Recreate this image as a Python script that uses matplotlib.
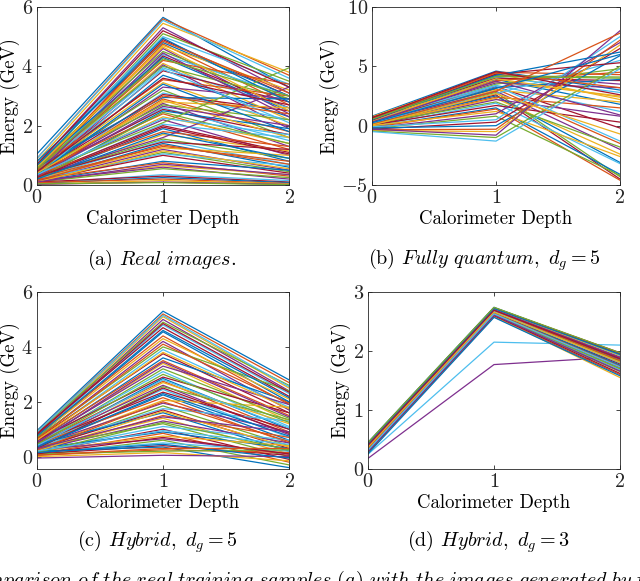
import matplotlib
matplotlib.use("Agg")
import matplotlib.pyplot as plt

plt.rcParams["font.family"] = "cmr10"
plt.rcParams["mathtext.fontset"] = "cm"
plt.rcParams["axes.formatter.use_mathtext"] = True
plt.rcParams["axes.unicode_minus"] = False

# MATLAB default colour order
matlab_colors = ["#0072BD", "#D95319", "#EDB120", "#7E2F8E",
                 "#77AC30", "#4DBEEE", "#A2142F"]

depth = [0, 1, 2]

# (a) real images: energy at depth 0, 1, 2 for each sample
real_e0 = [1.05, 0.9, 0.8, 0.7, 0.6, 0.75, 0.5, 0.8, 0.45, 0.6, 0.4, 0.7, 0.55, 0.3, 0.65,
           0.5, 0.45, 0.35, 0.6, 0.5, 0.4, 0.3, 0.55, 0.45, 0.35, 0.5, 0.25, 0.4, 0.6, 0.3,
           0.45, 0.35, 0.5, 0.3, 0.4, 0.2, 0.45, 0.3, 0.35, 0.4, 0.25, 0.3, 0.2, 0.35, 0.15,
           0.3, 0.25, 0.2, 0.3, 0.15, 0.25, 0.2, 0.15, 0.1, 0.2, 0.15, 0.12, 0.2, 0.1, 0.15,
           0.1, 0.05, 0.1, 0.05, 0.08, 0.03, 0.02, 0.04,
           0.9, 0.7, 0.65, 0.5, 0.6, 0.4, 0.55, 0.3, 0.45, 0.35, 0.25, 0.4, 0.3, 0.2, 0.35,
           0.25, 0.2, 0.15, 0.1, 0.1]
real_e1 = [5.65, 5.6, 5.45, 5.3, 5.1, 5.0, 4.9, 4.8, 4.75, 4.7, 4.6, 4.5, 4.4, 4.35, 4.3,
           4.2, 4.1, 4.05, 4.0, 3.95, 3.85, 3.7, 3.55, 3.45, 3.3, 3.2, 3.1, 3.05, 2.95, 2.9,
           2.8, 2.75, 2.7, 2.6, 2.55, 2.5, 2.4, 2.3, 2.2, 2.1, 2.05, 2.0, 1.9, 1.8, 1.7,
           1.6, 1.55, 1.5, 1.45, 1.4, 1.3, 1.25, 1.2, 1.1, 1.05, 1.0, 0.8, 0.75, 0.65, 0.6,
           0.55, 0.35, 0.3, 0.25, 0.2, 0.15, 0.1, 0.08,
           5.55, 5.2, 4.95, 4.85, 4.65, 4.45, 4.25, 3.9, 3.6, 3.4, 3.0, 2.85, 2.65, 2.45, 2.25,
           1.95, 1.75, 1.35, 1.15, 0.7]
real_e2 = [3.3, 3.7, 3.8, 3.1, 3.5, 3.4, 3.0, 3.0, 2.7, 3.2, 2.4, 2.9, 3.0, 2.6, 2.5,
           3.4, 2.2, 1.9, 2.9, 2.6, 2.8, 2.3, 3.0, 2.0, 2.9, 1.6, 2.2, 2.5, 2.9, 1.8,
           2.6, 1.3, 2.2, 1.5, 1.7, 1.9, 1.2, 1.4, 1.0, 3.95, 1.6, 1.1, 0.8, 1.3, 1.15,
           3.3, 0.9, 0.7, 1.2, 0.6, 0.8, 1.0, 0.5, 0.45, 0.65, 0.4, 0.5, 0.3, 0.35, 0.2,
           0.25, 0.15, 0.1, 0.08, 0.05, 0.04, 0.02, 0.01,
           3.6, 3.3, 2.8, 3.1, 2.5, 2.3, 3.0, 2.1, 2.7, 1.8, 2.4, 1.6, 2.0, 1.4, 1.7,
           1.05, 0.9, 0.7, 0.55, 0.35]

# (b) fully quantum generator, d_g = 5
fq_e0 = [0.8, 0.7, 0.75, 0.6, 0.65, 0.5, 0.7, 0.55, 0.4, 0.6, 0.45, 0.3, 0.5, 0.35, 0.25,
         0.4, 0.2, 0.3, 0.15, 0.25, 0.1, 0.2, 0.05, 0.1, 0.0, 0.15, -0.05, 0.05, -0.1, -0.15,
         0.0, -0.2, -0.25, -0.1, -0.3, -0.2, -0.35, -0.4, -0.3, -0.45, -0.5, 0.45, 0.5, 0.6,
         0.35, 0.3, 0.55, 0.2, 0.65, 0.25, 0.1, 0.05]
fq_e1 = [4.6, 4.5, 4.4, 4.3, 4.2, 4.1, 4.0, 3.9, 3.8, 3.7, 3.6, 3.5, 3.4, 3.3, 3.2,
         3.1, 3.0, 2.9, 2.8, 2.7, 2.6, 2.5, 2.4, 2.3, 2.2, 2.0, 1.9, 1.7, 1.5, 1.4,
         1.2, 1.0, 0.8, 0.5, 0.3, 0.0, -0.3, -0.5, -0.8, -1.0, -1.3, 4.35, 4.25, 4.45,
         3.95, 3.75, 4.15, 3.35, 4.55, 3.15, 2.9, 2.7]
fq_e2 = [3.0, 4.3, 2.2, 3.5, 4.1, 2.8, 3.8, 1.8, 4.5, 2.5, 3.2, 4.8, 1.2, -0.2, 3.9,
         -1.5, 2.0, -2.0, -4.3, 5.5, -4.5, -3.1, 1.5, -2.4, 0.8, -1.8, -3.2, 0.3, -4.1, -4.6,
         -2.6, 7.0, -4.2, 7.5, 6.5, 5.9, 7.2, 6.8, 8.0, 5.0, 4.8, 5.3, 6.2, 3.2,
         2.4, 0.9, 4.0, -1.3, 2.6, 6.0, 7.8, -0.7]

# (c) hybrid generator, d_g = 5
hy5_e0 = [0.95, 0.9, 0.85, 0.8, 0.9, 0.75, 0.85, 0.7, 0.8, 0.75, 0.65, 0.7, 0.6, 0.65, 0.55,
          0.6, 0.5, 0.55, 0.45, 0.5, 0.6, 0.4, 0.5, 0.35, 0.45, 0.3, 0.4, 0.5, 0.35, 0.45,
          0.3, 0.4, 0.25, 0.35, 0.3, 0.45, 0.2, 0.3, 0.25, 0.35, 0.2, 0.15, 0.3, 0.1, 0.2,
          0.25, 0.05, 0.15, 0.1, 0.2, 0.05, 0.0, -0.05, 0.1,
          0.9, 0.8, 0.75, 0.65, 0.6, 0.5, 0.45, 0.4, 0.3, 0.35, 0.25, 0.2, 0.3, 0.15, 0.2,
          0.1, 0.15, 0.05]
hy5_e1 = [5.3, 5.2, 5.1, 5.0, 4.9, 4.8, 4.7, 4.55, 4.4, 4.3, 4.2, 4.0, 3.9, 3.75, 3.6,
          3.5, 3.4, 3.3, 3.2, 3.1, 2.9, 2.85, 2.75, 2.7, 2.6, 2.55, 2.45, 2.35, 2.25, 2.15,
          2.05, 1.95, 1.85, 1.75, 1.7, 1.6, 1.5, 1.4, 1.3, 1.2, 1.1, 1.0, 0.9, 0.85, 0.75,
          0.65, 0.6, 0.5, 0.4, 0.35, 0.25, 0.15, 0.05, 0.2,
          5.15, 4.85, 4.6, 4.1, 3.8, 3.45, 3.0, 2.8, 2.5, 2.3, 2.0, 1.65, 1.45, 1.25, 0.95,
          0.7, 0.45, 0.3]
hy5_e2 = [2.8, 2.7, 2.5, 2.4, 2.6, 2.3, 2.2, 2.0, 1.9, 2.1, 1.7, 2.4, 1.8, 1.6, 2.0,
          1.5, 1.3, 1.9, 1.4, 1.1, 1.6, 1.0, 0.9, 1.2, 0.8, 1.35, 0.7, 1.0, 0.6, 0.5,
          1.8, 0.9, 0.4, 1.3, 0.3, 0.2, 0.7, 0.1, 0.5, 0.0, 0.6, -0.1, 0.3, -0.2, 0.4,
          0.1, -0.3, 0.2, 0.05, -0.4, 0.15, -0.15, 0.0, 0.25,
          2.55, 2.35, 2.15, 1.95, 1.75, 1.45, 1.25, 1.05, 0.85, 0.75, 0.55, 0.35, 0.9, 0.25, 0.45,
          0.1, -0.05, 0.3]

# (d) hybrid generator, d_g = 3
hy3_e0 = [0.45, 0.42, 0.4, 0.18, 0.38, 0.25, 0.44, 0.36, 0.41, 0.33, 0.39, 0.3, 0.43, 0.35,
          0.37, 0.28, 0.42, 0.34, 0.4, 0.31, 0.44, 0.36, 0.38, 0.27, 0.41, 0.33, 0.39, 0.29,
          0.43, 0.35, 0.37, 0.3, 0.45, 0.32, 0.4, 0.26]
hy3_e1 = [2.74, 2.72, 2.7, 1.77, 2.68, 2.15, 2.73, 2.66, 2.71, 2.64, 2.69, 2.6, 2.72, 2.65,
          2.67, 2.58, 2.71, 2.63, 2.69, 2.61, 2.73, 2.66, 2.68, 2.59, 2.7, 2.62, 2.67, 2.6,
          2.72, 2.64, 2.66, 2.61, 2.74, 2.63, 2.69, 2.57]
hy3_e2 = [1.95, 1.9, 1.85, 1.9, 1.8, 2.1, 1.97, 1.75, 1.88, 1.7, 1.83, 1.65, 1.92, 1.78,
          1.86, 1.6, 1.93, 1.72, 1.82, 1.68, 1.96, 1.76, 1.84, 1.55, 1.89, 1.7, 1.8, 1.62,
          1.94, 1.74, 1.81, 1.66, 1.97, 1.73, 1.87, 1.58]

W, H = 640, 581
fig = plt.figure(figsize=(W / 100, H / 100), dpi=100)


def make_axes(left, right, top, bottom):
    return fig.add_axes([left / W, (H - bottom) / H, (right - left) / W, (bottom - top) / H])


def draw_panel(ax, e0, e1, e2, ylim, yticks):
    for i, (a, b, c) in enumerate(zip(e0, e1, e2)):
        ax.plot(depth, [a, b, c], color=matlab_colors[i % 7], lw=0.9)
    ax.set_xlim(0, 2)
    ax.set_ylim(*ylim)
    ax.set_xticks([0, 1, 2])
    ax.set_yticks(yticks)
    ax.set_xlabel("Calorimeter Depth", fontsize=13.5, labelpad=2)
    ax.set_ylabel("Energy (GeV)", fontsize=13.5, labelpad=1)
    ax.tick_params(direction="in", length=3, width=0.6, top=True, right=True,
                   labelsize=14.5, colors="#262626", pad=3)
    for s in ax.spines.values():
        s.set_linewidth(0.6)
        s.set_color("#262626")


ax_a = make_axes(37, 289, 7, 185)
draw_panel(ax_a, real_e0, real_e1, real_e2, (0, 6), [0, 2, 4, 6])
ax_b = make_axes(372, 620, 7, 185)
draw_panel(ax_b, fq_e0, fq_e1, fq_e2, (-5, 10), [-5, 0, 5, 10])
ax_c = make_axes(37, 289, 292, 469)
draw_panel(ax_c, hy5_e0, hy5_e1, hy5_e2, (-0.45, 6), [0, 2, 4, 6])
ax_d = make_axes(368, 620, 292, 469)
draw_panel(ax_d, hy3_e0, hy3_e1, hy3_e2, (0, 3), [0, 1, 2, 3])

cap = dict(fontsize=14.5, ha="center", va="center")
fig.text(162 / W, 1 - 260 / H, r"(a) $\mathit{Real\ images.}$", **cap)
fig.text(484 / W, 1 - 260 / H, r"(b) $\mathit{Fully\ quantum},\ d_g = 5$", **cap)
fig.text(157 / W, 1 - 542 / H, r"(c) $\mathit{Hybrid},\ d_g = 5$", **cap)
fig.text(488 / W, 1 - 542 / H, r"(d) $\mathit{Hybrid},\ d_g = 3$", **cap)
fig.text(-24 / W, -5 / H,
         r"$\mathit{omparison\ of\ the\ real\ training\ samples\ (a)\ with\ the\ images\ generated\ by\ the}$",
         fontsize=14.5, ha="left", va="baseline")

fig.savefig("out.png", dpi=100)
